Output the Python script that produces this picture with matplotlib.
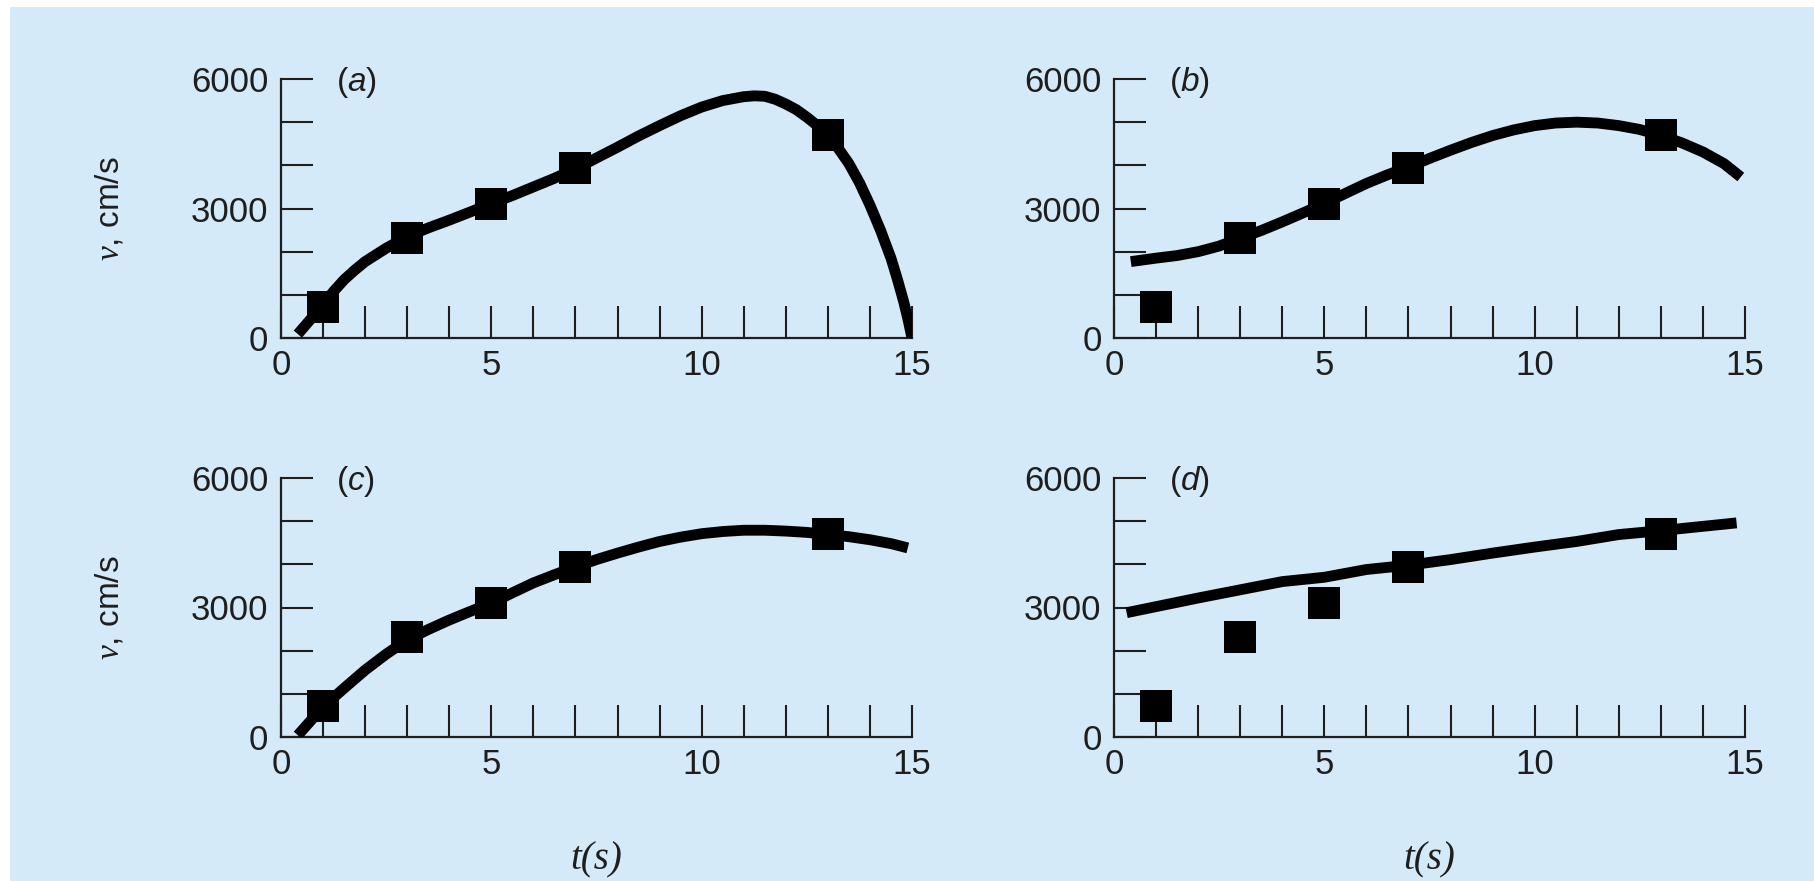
import numpy as np
import matplotlib
matplotlib.use('Agg')
import matplotlib.pyplot as plt
from matplotlib.patches import Rectangle

plt.rcParams['font.family'] = ['Liberation Sans', 'DejaVu Sans']
plt.rcParams['mathtext.fontset'] = 'custom'
plt.rcParams['mathtext.it'] = 'Liberation Serif:italic'
plt.rcParams['mathtext.rm'] = 'Liberation Serif'
plt.rcParams['mathtext.sf'] = 'Liberation Sans:italic'

# measured points
t_data = [1, 3, 5, 7, 13]
v_data = [720, 2310, 3100, 3940, 4700]

# curves
t_a = [0.4, 0.7, 1, 1.25, 1.5, 1.75, 2, 2.5, 3, 3.5, 4, 4.5, 5, 5.5, 6, 6.5, 7, 7.5, 8, 8.5, 9, 9.5,
       10, 10.5, 11, 11.25, 11.5, 11.75, 12, 12.25, 12.5, 12.75, 13, 13.25, 13.5, 13.75, 14, 14.25,
       14.5, 14.65, 14.8, 14.9, 15]
v_a = [90, 430, 770, 1080, 1350, 1570, 1770, 2080, 2350, 2550, 2730, 2920, 3115, 3300, 3500, 3700,
       3920, 4170, 4420, 4680, 4920, 5150, 5350, 5500, 5590, 5610, 5600, 5530, 5420, 5290, 5115, 4920,
       4690, 4390, 4040, 3600, 3080, 2500, 1850, 1370, 850, 450, 0]

t_b = [0.4, 1, 1.5, 2, 2.5, 3, 3.5, 4, 4.5, 5, 5.5, 6, 6.5, 7, 7.5, 8, 8.5, 9, 9.5, 10, 10.5, 11,
       11.5, 12, 12.5, 13, 13.5, 14, 14.5, 14.9]
v_b = [1770, 1850, 1910, 2000, 2130, 2310, 2490, 2690, 2900, 3115, 3350, 3580, 3780, 3960, 4160,
       4350, 4530, 4690, 4820, 4920, 4980, 5000, 4980, 4920, 4830, 4690, 4520, 4310, 4040, 3730]

t_c = [0.4, 0.7, 1, 1.5, 2, 2.5, 3, 3.5, 4, 4.5, 5, 5.5, 6, 6.5, 7, 7.5, 8, 8.5, 9, 9.5, 10, 10.5,
       11, 11.5, 12, 12.5, 13, 13.5, 14, 14.5, 14.9]
v_c = [40, 370, 700, 1130, 1550, 1920, 2250, 2490, 2710, 2910, 3100, 3340, 3570, 3760, 3940, 4110,
       4260, 4400, 4530, 4630, 4710, 4760, 4790, 4790, 4770, 4740, 4690, 4640, 4570, 4480, 4380]

t_d = [0.3, 1, 2, 3, 4, 5, 6, 7, 8, 9, 10, 11, 12, 13, 14, 14.8]
v_d = [2880, 3020, 3220, 3410, 3600, 3700, 3880, 3980, 4110, 4260, 4400, 4530, 4690, 4780, 4880, 4960]

panel_names = ['a', 'b', 'c', 'd']
curves = [(t_a, v_a), (t_b, v_b), (t_c, v_c), (t_d, v_d)]

bg = '#d5eaf9'
ink = '#1e1e1e'

fig = plt.figure(figsize=(18.14, 8.81), dpi=100)
fig.patch.set_facecolor('white')
fig.patches.append(Rectangle((10 / 1814, 0), 1, 1 - 7 / 881, transform=fig.transFigure,
                             facecolor=bg, edgecolor='none', zorder=-10))

W = 1814.0
H = 881.0
lefts = [281, 1114, 281, 1114]
tops = [79, 79, 478, 478]
aw = 631 / W
ah = 259 / H

for i, name in enumerate(panel_names):
    ax = fig.add_axes([lefts[i] / W, 1 - (tops[i] + 259) / H, aw, ah])
    ax.set_facecolor('none')
    tc, vc = curves[i]
    ax.plot(tc, vc, color='black', lw=7.8, solid_capstyle='butt', solid_joinstyle='round', zorder=3)
    ax.plot(t_data, v_data, ls='none', marker='s', ms=23, color='black', mec='black', mew=0, zorder=4)

    ax.set_xlim(0, 15)
    ax.set_ylim(0, 6000)
    for s in ['top', 'right']:
        ax.spines[s].set_visible(False)
    for s in ['left', 'bottom']:
        ax.spines[s].set_linewidth(1.6)
        ax.spines[s].set_color(ink)

    ax.set_xticks(np.arange(0, 16, 1))
    ax.set_xticklabels([str(x) if x % 5 == 0 else '' for x in range(16)])
    ax.set_yticks(np.arange(0, 7000, 1000))
    ax.set_yticklabels([str(y) if y % 3000 == 0 else '' for y in range(0, 7000, 1000)])
    ax.tick_params(axis='both', direction='in', length=23, width=1.5, color=ink,
                   labelsize=25, labelcolor=ink)
    ax.tick_params(axis='x', pad=8)
    ax.tick_params(axis='y', pad=9)

    ax.text(1.3, 5930, '($\\mathsf{' + name + '}$)', fontsize=24, color=ink, va='center', ha='left')

    if i in (0, 2):
        ax.set_ylabel('$v$, cm/s', fontsize=24, color=ink)
        ax.yaxis.set_label_coords(-0.246, 0.5)
    if i in (2, 3):
        ax.set_xlabel('t(s)', fontsize=28, color=ink, family='Liberation Serif', style='italic')
        ax.xaxis.set_label_coords(0.5, -0.405)

fig.savefig('out.png', dpi=100, facecolor=fig.get_facecolor())
